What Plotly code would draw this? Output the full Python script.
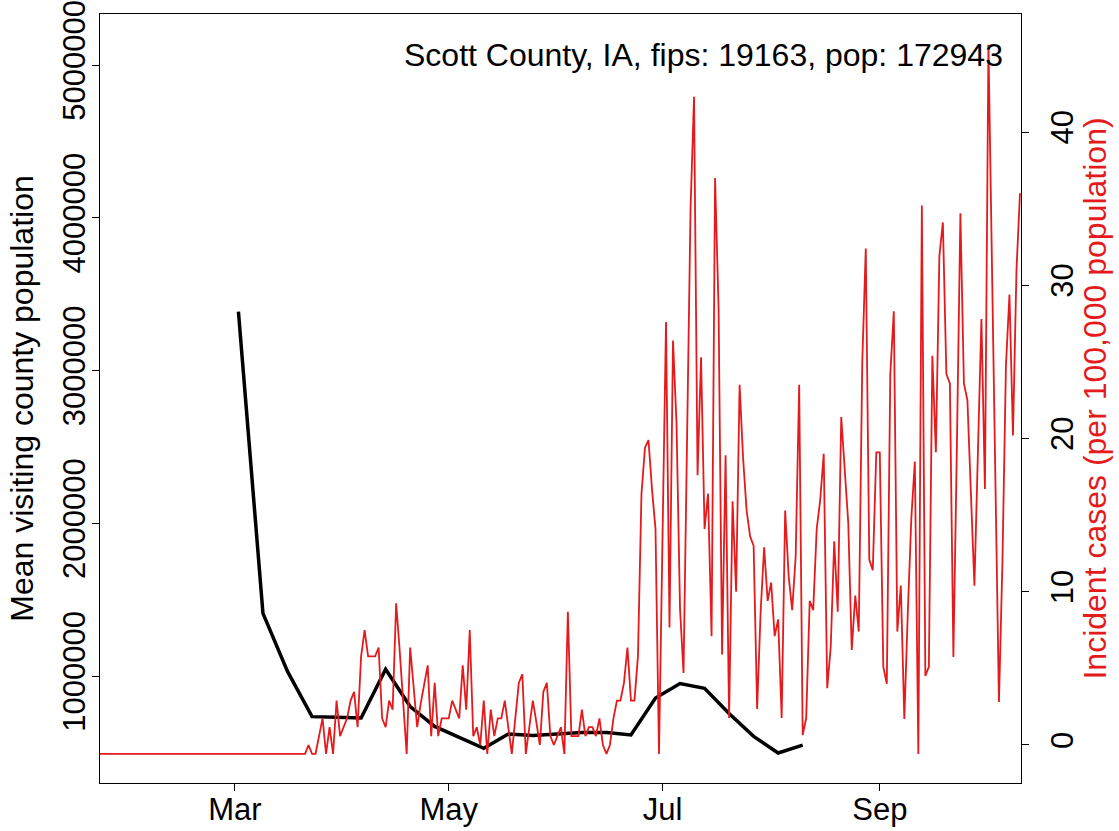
import pandas as pd
import plotly.graph_objects as go

# weekly mean visiting county population (black line), Mondays from 2020-03-02
visit_start = "2020-03-02"
visit_pop = [3385000, 1410000, 1030000, 734000, 730000, 725000, 1044000, 800000,
             670000, 600000, 527000, 620000, 610000, 620000, 630000, 630000,
             614000, 856000, 951000, 919000, 755000, 605000, 496000, 548000]

# daily incident cases per 100,000 population (red line), from 2020-01-22
cases_start = "2020-01-22"
cases = [
    -0.58, -0.58, -0.58, -0.58, -0.58, -0.58, -0.58, -0.58, -0.58, -0.58,
    -0.58, -0.58, -0.58, -0.58, -0.58, -0.58, -0.58, -0.58, -0.58, -0.58,
    -0.58, -0.58, -0.58, -0.58, -0.58, -0.58, -0.58, -0.58, -0.58, -0.58,
    -0.58, -0.58, -0.58, -0.58, -0.58, -0.58, -0.58, -0.58, -0.58, -0.58,
    -0.58, -0.58, -0.58, -0.58, -0.58, -0.58, -0.58, -0.58, -0.58, -0.58,
    -0.58, -0.58, -0.58, -0.58, -0.58, -0.58, -0.58, -0.58, -0.58, -0.58,
    0.0, -0.58, -0.58, 0.58, 1.74, -0.58, 1.16, -0.58, 2.9, 0.58,
    1.16, 1.74, 2.9, 3.47, 1.16, 5.78, 7.5, 5.78, 5.78, 5.78,
    6.36, 1.74, 1.16, 2.9, 2.31, 9.25, 6.2, 2.8, -0.58, 6.36,
    3.85, 1.16, 2.7, 4.0, 5.2, 0.58, 4.05, 0.58, 1.74, 1.74,
    1.74, 2.9, 2.31, 1.74, 5.2, 2.31, 7.5, 0.58, 1.16, 0.0,
    2.9, -0.58, 2.31, 0.58, 1.74, 1.74, 2.9, 1.16, -0.58, 1.74,
    4.05, 4.62, -0.58, 1.16, 2.9, 1.5, 0.0, 3.47, 4.05, 0.58,
    0.0, 0.58, 1.16, -0.58, 8.7, 0.58, 0.58, 0.58, 2.31, 0.58,
    1.16, 1.16, 0.58, 1.74, 0.0, -0.58, 0.0, 1.74, 2.9, 2.9,
    4.05, 6.36, 2.9, 2.9, 5.8, 16.4, 19.4, 19.9, 16.7, 14.1,
    -0.58, 13.5, 27.6, 7.66, 26.4, 21.0, 8.9, 4.7, 20.0, 35.0,
    42.3, 17.6, 25.3, 14.1, 16.4, 7.1, 37.0, 28.5, 5.9, 18.9,
    1.76, 15.9, 10.0, 23.5, 18.7, 15.3, 13.6, 13.0, 2.35, 8.7,
    12.9, 9.4, 10.6, 7.1, 8.2, 1.76, 15.3, 11.0, 8.8, 12.3,
    23.5, 0.65, 1.76, 9.4, 8.8, 14.1, 16.0, 19.0, 3.7, 6.4,
    13.3, 8.7, 21.4, 17.6, 14.5, 6.2, 9.75, 7.4, 25.0, 32.4,
    12.1, 11.4, 19.1, 19.1, 5.1, 4.0, 24.2, 28.3, 7.4, 10.4,
    1.7, 8.7, 14.8, 18.5, -0.58, 35.2, 4.5, 5.1, 25.4, 19.1,
    31.9, 34.1, 24.2, 23.6, 5.75, 19.5, 34.7, 23.6, 22.5, 16.4,
    10.4, 19.1, 27.8, 16.7, 45.7, 31.4, 17.1, 2.8, 12.0, 24.8,
    29.4, 20.2, 31.0, 36.0,
]

month_ticks = ["2020-03-01", "2020-05-01", "2020-07-01", "2020-09-01"]
month_labels = ["Mar", "May", "Jul", "Sep"]
pop_ticks = [1000000, 2000000, 3000000, 4000000, 5000000]
case_ticks = [0, 10, 20, 30, 40]
title_text = "Scott County, IA, fips: 19163, pop: 172943"

visit_dates = pd.date_range(visit_start, periods=len(visit_pop), freq="7D")
case_dates = pd.date_range(cases_start, periods=len(cases), freq="D")

RED = "#E41A1C"
FONT = "Liberation Sans, Arial, sans-serif"

fig = go.Figure()
fig.add_trace(go.Scatter(x=visit_dates, y=visit_pop, mode="lines",
                         line=dict(color="black", width=3.5), yaxis="y"))
fig.add_trace(go.Scatter(x=case_dates, y=cases, mode="lines",
                         line=dict(color=RED, width=1.8), yaxis="y2"))

axis_style = dict(ticks="outside", ticklen=7, tickwidth=1, tickcolor="black",
                  showline=True, linecolor="black", linewidth=1,
                  showgrid=False, zeroline=False, automargin=False,
                  tickfont=dict(size=31))

fig.update_layout(
    width=1119, height=831,
    margin=dict(l=100, r=98, t=14, b=48, autoexpand=False),
    plot_bgcolor="white", paper_bgcolor="white",
    showlegend=False,
    font=dict(family=FONT, size=31, color="black"),
    xaxis=dict(range=["2020-01-22 12:00", "2020-10-11 07:00"],
               tickvals=month_ticks, ticktext=month_labels,
               mirror=True, ticklabelstandoff=-8, **axis_style),
    yaxis=dict(range=[299500, 5334000],
               tickvals=pop_ticks, ticktext=[str(v) for v in pop_ticks],
               tickangle=-90, mirror=True, ticklabelstandoff=-5, **axis_style),
    yaxis2=dict(range=[-2.48, 47.7], overlaying="y", side="right",
                tickvals=case_ticks, tickangle=-90, ticklabelstandoff=7,
                **axis_style),
    annotations=[
        dict(text=title_text, xref="paper", yref="paper", x=0.983, y=0.9467,
             xanchor="right", yanchor="middle", showarrow=False,
             font=dict(size=32)),
        dict(text="Mean visiting county population", xref="paper", yref="paper",
             x=-0.0855, y=0.5, xanchor="center", yanchor="middle",
             textangle=-90, showarrow=False, font=dict(size=32)),
        dict(text="Incident cases (per 100,000 population)", xref="paper",
             yref="paper", x=1.0793, y=0.5, xanchor="center", yanchor="middle",
             textangle=-90, showarrow=False, font=dict(size=32, color=RED)),
    ],
)

# the page's default body margin would push the figure 8px off the corner
fig.write_html("out.html", config={"displayModeBar": False},
               post_script="document.body.style.margin = '0';")
